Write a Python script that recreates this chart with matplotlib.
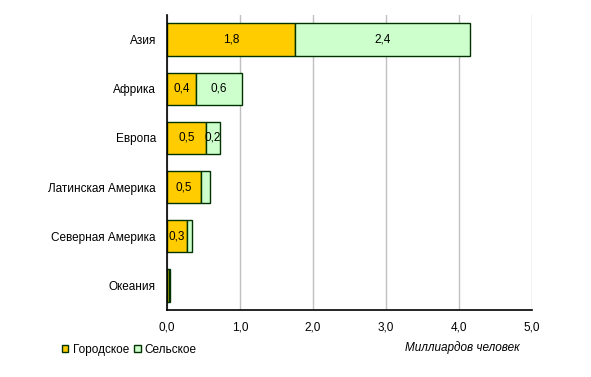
import matplotlib.pyplot as plt
from matplotlib.patches import Patch

plt.rcParams['font.family'] = ['Liberation Sans', 'DejaVu Sans']

regions = ["Азия", "Африка", "Европа", "Латинская Америка", "Северная Америка", "Океания"]
urban = [1.75, 0.40, 0.53, 0.47, 0.27, 0.025]
rural = [2.40, 0.63, 0.19, 0.12, 0.07, 0.01]
urban_labels = ["1,8", "0,4", "0,5", "0,5", "0,3", ""]
rural_labels = ["2,4", "0,6", "0,2", "", "", ""]
xticks = [0, 1, 2, 3, 4, 5]

fig = plt.figure(figsize=(5.91, 3.77), dpi=100)
ax = fig.add_axes([167 / 591, 1 - 310 / 377, 365 / 591, 295 / 377])

y = list(range(len(regions)))
edge = "#003300"
ax.barh(y, urban, height=0.66, color="#ffcc00", edgecolor=edge, linewidth=1)
ax.barh(y, rural, left=urban, height=0.66, color="#ccffcc", edgecolor=edge, linewidth=1)

for i in range(len(regions)):
    if urban_labels[i]:
        ax.text(urban[i] / 2, y[i], urban_labels[i], ha="center", va="center", fontsize=8.5)
    if rural_labels[i]:
        ax.text(urban[i] + rural[i] / 2, y[i], rural_labels[i], ha="center", va="center", fontsize=8.5)

ax.set_xlim(0, 5)
ax.set_ylim(len(regions) - 0.5, -0.5)
ax.set_xticks(xticks)
ax.set_xticklabels([f"{v:.1f}".replace(".", ",") for v in xticks], fontsize=8.5)
ax.set_yticks(y)
ax.set_yticklabels(regions, fontsize=8.5)
ax.tick_params(axis="both", length=0, pad=8)
ax.grid(axis="x", color="#c0c0c0", linewidth=1)
ax.set_axisbelow(True)
for s in ["top", "right"]:
    ax.spines[s].set_visible(False)
ax.spines["left"].set_linewidth(1.2)
ax.spines["bottom"].set_linewidth(1.2)

handles = [Patch(facecolor="#ffcc00", edgecolor=edge), Patch(facecolor="#ccffcc", edgecolor=edge)]
fig.legend(handles, ["Городское", "Сельское"], loc="center left", bbox_to_anchor=(62 / 591, 1 - 350 / 377),
           ncol=2, frameon=False, fontsize=8.5, handlelength=0.55, handleheight=0.55,
           handletextpad=0.35, columnspacing=0.45, borderaxespad=0, borderpad=0)

fig.text(462 / 591, 1 - 348 / 377, "Миллиардов человек", ha="center", va="center",
         fontsize=8.5, style="italic")

fig.savefig("out.png", dpi=100)
